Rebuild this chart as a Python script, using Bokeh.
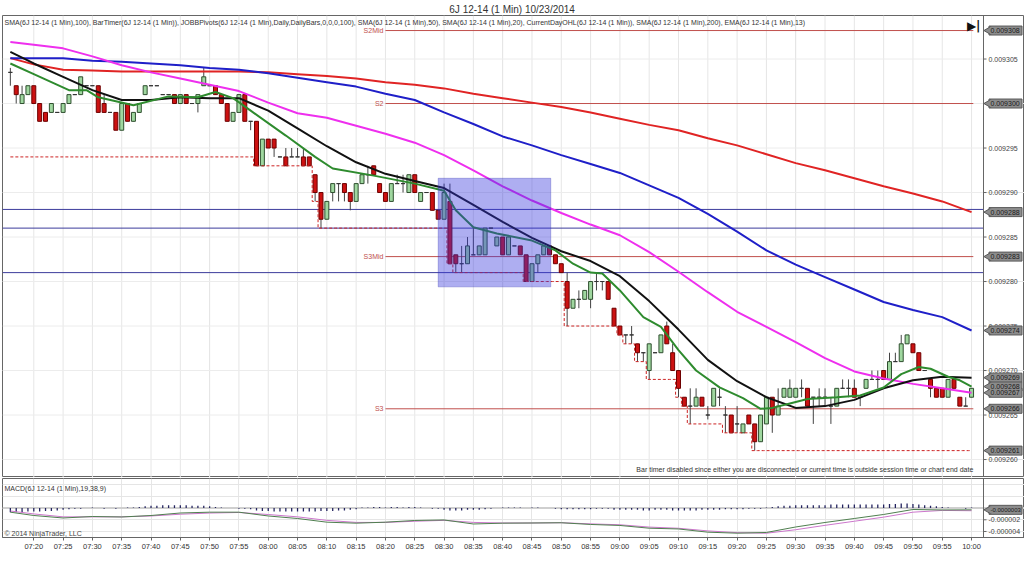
import numpy as np
from bokeh.plotting import figure
from bokeh.layouts import column
from bokeh.models import Range1d, FixedTicker, Label, ColumnDataSource, BoxAnnotation, Span
from bokeh.core.properties import value
from bokeh.embed import file_html
from bokeh.resources import INLINE

FONT = "Liberation Sans"
U = 1e-6  # all price arrays below are in millionths (9300 -> 0.009300)

# ---------------- texts ----------------
title_text = "6J 12-14 (1 Min)  10/23/2014"
indicator_text = ("SMA(6J 12-14 (1 Min),100), BarTimer(6J 12-14 (1 Min)), "
                  "JOBBPivots(6J 12-14 (1 Min),Daily,DailyBars,0,0,0,100), SMA(6J 12-14 (1 Min),50), "
                  "SMA(6J 12-14 (1 Min),20), CurrentDayOHL(6J 12-14 (1 Min)), SMA(6J 12-14 (1 Min),200), "
                  "EMA(6J 12-14 (1 Min),13)")
bartimer_text = ("Bar timer disabled since either you are disconnected or current time is "
                 "outside session time or chart end date")
macd_text = "MACD(6J 12-14 (1 Min),19,38,9)"
copyright_text = "\u00a9 2014 NinjaTrader, LLC"

tick_labels = ["07:20", "07:25", "07:30", "07:35", "07:40", "07:45", "07:50", "07:55",
               "08:00", "08:05", "08:10", "08:15", "08:20", "08:25", "08:30", "08:35",
               "08:40", "08:45", "08:50", "08:55", "09:00", "09:05", "09:10", "09:15",
               "09:20", "09:25", "09:30", "09:35", "09:40", "09:45", "09:50", "09:55", "10:00"]
price_ticks = [9260, 9265, 9270, 9275, 9280, 9285, 9290, 9295, 9300, 9305]
macd_ticks = [-4, -2]

# ---------------- 1-minute bars, 07:16 .. 10:00 ----------------
first_bar = "07:16"
opens = [
    9303.5, 9302, 9300, 9301, 9302, 9300, 9299, 9299, 9299, 9299,
    9300, 9301, 9301, 9302, 9302, 9302, 9300, 9299, 9299, 9297,
    9300, 9298, 9299, 9301, 9302, 9302, 9301, 9301, 9301, 9300,
    9301, 9300, 9300, 9302, 9302, 9302, 9301, 9300, 9298, 9299,
    9301, 9298, 9298, 9293, 9296, 9296, 9294, 9294, 9294, 9294,
    9294, 9294, 9292, 9290, 9287, 9290, 9291, 9291, 9290, 9289,
    9291, 9292, 9293, 9291, 9290, 9289, 9291, 9291, 9290, 9292,
    9289, 9290, 9290, 9288, 9287, 9289, 9283, 9282, 9282, 9283,
    9283, 9283, 9286, 9284, 9285, 9283, 9284, 9284, 9283, 9280,
    9282, 9283, 9284, 9283, 9282, 9280, 9277, 9278, 9278, 9278,
    9280, 9280, 9280, 9277, 9275, 9274, 9274, 9273, 9272, 9270,
    9272, 9272, 9275, 9272, 9270, 9267, 9266, 9266, 9267, 9265,
    9266, 9267, 9265, 9265, 9264, 9263, 9265, 9264, 9262, 9264,
    9267, 9265, 9267, 9267, 9267, 9268, 9268, 9267, 9267, 9267,
    9266, 9266, 9268, 9268, 9268, 9267, 9268, 9269, 9269, 9270,
    9269, 9271, 9271, 9273, 9273, 9272, 9270, 9269, 9268, 9268,
    9267, 9269, 9267, 9266, 9267]
highs = [
    9304, 9302, 9302, 9302, 9302, 9300, 9299, 9300, 9299, 9300,
    9301, 9301, 9303, 9302, 9302, 9302, 9301, 9299, 9299, 9300,
    9300, 9299, 9300, 9302, 9302, 9302, 9301, 9301, 9301, 9301,
    9301, 9300, 9301, 9304, 9302, 9302, 9301, 9300, 9299, 9301,
    9301, 9298, 9298, 9296, 9296, 9296, 9294, 9295, 9295, 9295,
    9295, 9294, 9292, 9290, 9289, 9291, 9291, 9291, 9290, 9291,
    9292, 9293, 9293, 9291, 9290, 9291, 9292, 9292, 9292, 9292,
    9290, 9290, 9290, 9288, 9291, 9291, 9283, 9284, 9285, 9286,
    9284, 9286, 9286, 9285, 9285, 9285, 9284, 9284, 9283, 9282,
    9283, 9284, 9284, 9283, 9282, 9281, 9278, 9279, 9279, 9280,
    9281, 9280, 9280, 9277, 9275, 9274, 9275, 9273, 9272, 9273,
    9272, 9274, 9275.5, 9273, 9270, 9267, 9268, 9268, 9267, 9266,
    9268, 9268, 9266, 9265, 9266, 9264, 9265, 9264, 9265, 9267,
    9267, 9268, 9268, 9269, 9268, 9269, 9268, 9267, 9268, 9268,
    9267, 9268, 9269, 9269, 9269, 9267, 9269, 9270, 9270, 9270,
    9272, 9272, 9274, 9274, 9273, 9272, 9270, 9269, 9268, 9268,
    9269, 9269, 9267, 9267, 9268]
lows = [
    9302, 9300, 9300, 9301, 9300, 9298, 9298, 9299, 9299, 9299,
    9300, 9301, 9301, 9302, 9302, 9299, 9299, 9299, 9297, 9297,
    9298, 9298, 9299, 9301, 9302, 9302, 9301, 9301, 9300, 9300,
    9300, 9300, 9299, 9302, 9302, 9301, 9300, 9298, 9298, 9299,
    9298, 9297, 9293, 9293, 9295, 9294, 9294, 9293, 9294, 9294,
    9293, 9293, 9289, 9286, 9287, 9289, 9289, 9289, 9288, 9289,
    9291, 9291, 9292, 9290, 9289, 9289, 9291, 9290, 9290, 9290,
    9289, 9290, 9288, 9287, 9287, 9282, 9281, 9281, 9282, 9283,
    9283, 9283, 9286, 9284, 9283, 9283, 9284, 9283, 9280, 9280,
    9281, 9283, 9283, 9282, 9281, 9275, 9277, 9277, 9278, 9277,
    9279, 9279, 9278, 9275, 9274, 9273, 9273, 9271, 9271, 9269,
    9272, 9272, 9273, 9270, 9267, 9266, 9264, 9266, 9266, 9264.5,
    9266, 9266, 9263, 9263, 9263, 9263, 9264, 9261, 9262, 9264,
    9263, 9265, 9267, 9267, 9267, 9267, 9266, 9264, 9266, 9266,
    9264, 9266, 9268, 9267, 9267, 9266, 9268, 9269, 9268, 9269,
    9269, 9271, 9271, 9273, 9272, 9270, 9270, 9267, 9267, 9267,
    9267, 9268, 9266, 9266, 9267]
closes = [
    9303.5, 9301, 9301, 9302, 9300, 9298, 9298, 9300, 9299, 9300,
    9301, 9301, 9303, 9302, 9302, 9299, 9299, 9299, 9297, 9300,
    9298, 9299, 9300, 9302, 9302, 9302, 9301, 9301, 9300, 9301,
    9300, 9300, 9301, 9303, 9302, 9301, 9300, 9298, 9299, 9301,
    9298, 9298, 9293, 9296, 9295, 9295, 9294, 9293, 9294, 9294,
    9293, 9293, 9290, 9287, 9289, 9291, 9291, 9290, 9289, 9291,
    9292, 9292, 9292, 9290, 9289, 9291, 9291, 9291, 9292, 9290,
    9290, 9290, 9288, 9287, 9290, 9282, 9282, 9282, 9284, 9283,
    9284, 9286, 9286, 9285, 9283, 9285, 9284, 9283, 9280, 9282,
    9283, 9284, 9283, 9282, 9281, 9277, 9278, 9278, 9279, 9280,
    9280, 9280, 9278, 9275, 9274, 9274, 9274, 9272, 9272, 9273,
    9272, 9274, 9273, 9270, 9268, 9266, 9266, 9267, 9266, 9265,
    9268, 9267, 9265, 9263, 9264, 9264, 9264, 9262, 9265, 9267,
    9265, 9266, 9268, 9268, 9268, 9268, 9266, 9267, 9267, 9267,
    9266, 9268, 9268, 9268, 9267, 9267, 9269, 9269, 9269, 9269,
    9271, 9271, 9273, 9274, 9272, 9270, 9270, 9268, 9267, 9267,
    9269, 9268, 9266, 9266, 9268]
prior_day_low = 9294.0   # CurrentDayOHL low before the first visible bar

# ---------------- moving averages (read every 5 minutes) ----------------
ma_minutes = [16, 20, 25, 30, 35, 40, 45, 50, 55, 60, 65, 70, 75, 80, 85, 90, 95,
              100, 105, 110, 115, 120, 125, 130, 135, 140, 145, 150, 155, 160, 165,
              170, 175, 180]
sma200 = [9305.1, 9304.4, 9303.8, 9303.7, 9303.6, 9303.6, 9303.6, 9303.6, 9303.6, 9303.5,
          9303.3, 9303.1, 9302.8, 9302.4, 9302.1, 9301.7, 9301.1, 9300.6, 9300.1, 9299.6,
          9299.0, 9298.3, 9297.6, 9297.0, 9296.1, 9295.3, 9294.3, 9293.3, 9292.5, 9291.6,
          9290.7, 9289.9, 9289.0, 9287.8]
sma100 = [9305.1, 9305.1, 9305.1, 9304.8, 9304.7, 9304.5, 9304.3, 9304.0, 9303.8, 9303.4,
          9302.9, 9302.4, 9301.9, 9301.1, 9300.4, 9299.0, 9297.7, 9296.3, 9295.3, 9294.2,
          9293.2, 9292.2, 9290.8, 9289.4, 9287.6, 9285.6, 9283.5, 9281.9, 9280.5, 9279.1,
          9277.7, 9276.8, 9276.0, 9274.5]
sma50 = [9306.9, 9306.6, 9306.2, 9305.3, 9304.3, 9303.5, 9302.8, 9302.1, 9301.4, 9300.1,
         9298.9, 9298.4, 9297.5, 9296.6, 9295.6, 9294.2, 9292.5, 9290.7, 9289.1, 9287.7,
         9286.4, 9285.2, 9283.3, 9281.1, 9278.8, 9276.6, 9274.9, 9273.2, 9271.4, 9269.9,
         9269.1, 9268.5, 9268.0, 9267.5]
sma20 = [9305.8, 9304.5, 9303.0, 9301.5, 9300.4, 9300.4, 9300.7, 9300.6, 9300.6, 9299.2,
         9297.2, 9295.2, 9293.4, 9292.1, 9291.3, 9290.5, 9288.6, 9286.7, 9284.9, 9283.4,
         9282.3, 9280.6, 9277.8, 9274.6, 9271.2, 9268.8, 9267.0, 9265.8, 9266.0, 9266.7,
         9268.0, 9268.9, 9269.3, 9269.2]
ema13_minutes = [16, 20, 26, 29, 31, 37, 43, 48, 51, 54, 57, 63, 68, 71, 78, 85, 90, 92, 95,
                 99, 105, 109, 112, 115, 117, 120, 124, 127, 130, 133, 137, 141, 144, 146,
                 149, 152, 157, 161, 165, 168, 171, 173, 176, 178, 180]
ema13 = [9304.5, 9303.3, 9301.5, 9301.5, 9300.7, 9299.8, 9300.8, 9300.7, 9301.3, 9300.6,
         9299.2, 9296.4, 9294.0, 9292.7, 9291.9, 9291.0, 9290.2, 9288.0, 9286.1, 9285.4,
         9284.6, 9283.5, 9282.0, 9281.0, 9280.9, 9279.0, 9276.0, 9274.9, 9272.3, 9270.0,
         9268.1, 9266.9, 9265.7, 9265.8, 9266.3, 9266.8, 9267.0, 9267.2, 9268.1, 9269.6,
         9270.4, 9270.2, 9269.3, 9268.9, 9268.2]

# ---------------- pivots and drawn objects ----------------
pivot_names = ["S2Mid", "S2", "S3Mid", "S3"]
pivot_values = [9308.2, 9300.0, 9282.8, 9265.7]
pivot_start = "08:20"
pivot_end = "10:00"
drawn_hlines = [9288.1, 9286.0, 9281.0]
rect_start, rect_end = 89.0, 108.2      # minutes after 07:00
rect_low, rect_high = 9279.4, 9291.6

# ---------------- MACD (millionths) ----------------
macd = [-0.70, -1.27, -1.69, -1.44, -1.52, -1.27, -0.84, -0.70, -0.70, -1.35,
        -1.78, -2.41, -2.58, -2.41, -2.12, -2.03, -2.72, -2.58, -2.55, -2.51,
        -2.80, -2.97, -3.44, -3.57, -4.12, -4.29, -4.17, -3.23, -2.46, -1.78,
        -1.09, -0.24, -0.32, -0.30]
macd_avg = [-0.50, -1.00, -1.50, -1.50, -1.50, -1.35, -1.05, -0.85, -0.75, -1.10,
            -1.50, -2.10, -2.45, -2.45, -2.25, -2.10, -2.45, -2.55, -2.55, -2.50,
            -2.70, -2.85, -3.25, -3.45, -3.90, -4.20, -4.30, -3.70, -2.95, -2.25,
            -1.55, -0.70, -0.40, -0.45]
macd_diff = [
    -0.7, -0.7, -0.7, -0.6, -0.6, -0.6, -0.5, -0.5, -0.4, -0.3, -0.2, -0.1,
    -0.1, 0.0, 0.1, 0.0, -0.1, 0.0, -0.1, 0.0, 0.1, 0.1, 0.2,
    0.3, 0.4, 0.4, 0.5, 0.5, 0.5, 0.5, 0.5, 0.4, 0.4, 0.4, 0.3, 0.2,
    0.1, 0.0, 0.0, -0.1, -0.1, -0.2,
    -0.4, -0.5, -0.5, -0.6, -0.6, -0.6, -0.6, -0.6, -0.6, -0.6, -0.6, -0.5, -0.5, -0.5,
    -0.4, -0.4, -0.3, -0.2,
    0.1, 0.1, 0.2, 0.2, 0.1, 0.2, 0.2, 0.1, 0.2, 0.2, 0.1, 0.0, -0.1, -0.1,
    -0.3, -0.4, -0.4, -0.4, -0.3, -0.3, -0.3, -0.2, -0.1,
    0.0, 0.1, 0.1, 0.1, 0.1, 0.0, 0.1, 0.1, 0.0, 0.0, -0.1,
    -0.2, -0.2, -0.2, -0.2, -0.2, -0.2, -0.1, -0.1, -0.1,
    -0.3, -0.3, -0.3, -0.3, -0.3, -0.4, -0.4, -0.3, -0.3, -0.3, -0.4, -0.4, -0.4,
    -0.4, -0.4, -0.3, -0.3, -0.3, -0.3, -0.2, -0.2, -0.2, -0.2, -0.1, -0.1, -0.1,
    0.1, 0.2, 0.3, 0.4, 0.4, 0.5, 0.5, 0.5, 0.5, 0.5, 0.5, 0.6, 0.6, 0.6,
    0.6, 0.6, 0.6, 0.6, 0.6, 0.6, 0.6, 0.7, 0.7, 0.8, 0.8, 0.7, 0.6, 0.5,
    0.4, 0.3, 0.2, 0.1, 0.0, 0.0, -0.1, 0.1]


def to_min(s):
    hh, mm = s.split(":")
    return (int(hh) - 7) * 60 + int(mm)


n = min(len(opens), len(highs), len(lows), len(closes))
bar_x = to_min(first_bar) + np.arange(n)
o = np.array(opens[:n]) * U
h = np.array(highs[:n]) * U
l = np.array(lows[:n]) * U
c = np.array(closes[:n]) * U
up = c > o
down = c < o
fill = np.where(up, "#9fd79f", np.where(down, "#cc1111", "#333333"))
edge = np.where(up, "#2f4f2f", np.where(down, "#6e0000", "#333333"))
candles = ColumnDataSource(dict(x=bar_x, high=h, low=l, top=np.maximum(o, c),
                                bottom=np.minimum(o, c), fill=fill, edge=edge))
running_low = np.minimum.accumulate(np.concatenate([[prior_day_low], lows[:n]]))[1:] * U

tick_pos = [to_min(t) for t in tick_labels]

# ---------------- layout constants ----------------
W = 1024
FRAME_W = W - 2             # frame from x=2 to the right edge (price scale drawn inside)
PX_PER_MIN = 5.861
X0 = 14.66                  # minute at the left edge of the frame
xr = Range1d(X0, X0 + FRAME_W / PX_PER_MIN)
MPP = 1.0 / PX_PER_MIN      # minutes per pixel
axis_x = X0 + 981 * MPP     # position of the price scale line
yr = Range1d(9257.98 * U, 9309.89 * U)
macd_lo, macd_hi = -5.03, 5.06
AXIS_C = "#666666"


def price_scale(fig, ticks, boxes, box_w=33, box_font="7px"):
    """Price scale on the right: line, ticks, labels and value boxes."""
    fig.add_layout(Span(location=axis_x, dimension="height", line_color=AXIS_C, line_width=1))
    fig.segment(x0=axis_x, x1=axis_x + 3 * MPP, y0=ticks, y1=ticks, line_color=AXIS_C)
    fig.text(x=[axis_x] * len(ticks), y=ticks, text=["%.6f" % t for t in ticks],
             x_offset=5, text_baseline="middle", text_font=value(FONT),
             text_font_size="7px", text_color="#444444")
    ys = [b[0] for b in boxes]
    bx = [axis_x + (5.5 + box_w / 2.0) * MPP] * len(boxes)
    fig.rect(x=bx, y=ys, width=box_w, height=9, width_units="screen",
             height_units="screen", fill_color="#8c8c8c", line_color="#5a5a5a")
    fig.scatter(x=[axis_x + 5 * MPP] * len(boxes), y=ys, marker="triangle",
                size=8, angle=np.pi / 2, fill_color="#8c8c8c", line_color="#5a5a5a")
    fig.rect(x=bx, y=ys, width=box_w - 2, height=7, width_units="screen",
             height_units="screen", fill_color="#8c8c8c", line_color=None)
    fig.text(x=[axis_x] * len(boxes), y=ys, text=[b[1] for b in boxes],
             x_offset=7, text_baseline="middle", text_font=value(FONT),
             text_font_size=box_font, text_color="#1a1a1a")


# ---------------- main price panel ----------------
p1 = figure(width=W, height=477, x_range=xr, y_range=yr, output_backend="svg",
            toolbar_location=None, x_axis_location=None, y_axis_location=None,
            min_border_left=2, min_border_right=0, min_border_top=15, min_border_bottom=0,
            background_fill_color="white", border_fill_color="white",
            outline_line_color=AXIS_C)
p1.title.text = title_text
p1.title.align = "center"
p1.title.text_font = FONT
p1.title.text_font_size = "10px"
p1.title.text_font_style = "normal"
p1.title.text_color = "#333333"
p1.title.standoff = 2

# grid
for tp in tick_pos:
    p1.add_layout(Span(location=tp, dimension="height", line_color="#e6e6e6", line_width=1,
                       level="underlay"))
p1.segment(x0=X0, x1=axis_x, y0=[t * U for t in price_ticks], y1=[t * U for t in price_ticks],
           line_color="#ececec", line_width=1)

# pivots
px0, px1 = to_min(pivot_start), to_min(pivot_end) + 0.3
for name, v in zip(pivot_names, pivot_values):
    p1.segment(x0=px0, y0=v * U, x1=px1, y1=v * U, line_color="#c0504d", line_width=1)
    p1.add_layout(Label(x=px0, y=v * U, text=name, text_font=FONT, text_font_size="7px",
                        text_color="#c0504d", text_align="right", text_baseline="middle",
                        x_offset=-2))
p1.segment(x0=X0, x1=axis_x, y0=[v * U for v in drawn_hlines], y1=[v * U for v in drawn_hlines],
           line_color="#3c3c9c", line_width=1)

# candles
p1.segment(x0="x", y0="high", x1="x", y1="low", source=candles, line_color="#444444", line_width=1)
p1.vbar(x="x", width=0.68, top="top", bottom="bottom", source=candles,
        fill_color="fill", line_color="edge", line_width=1)

# current day low (dashed step)
p1.step(x=bar_x, y=running_low, mode="center", line_color="#cc2222", line_width=1,
        line_dash="3 2")

# moving averages
p1.line(ma_minutes, [v * U for v in sma200], line_color="#e02424", line_width=2)
p1.line(ma_minutes, [v * U for v in sma100], line_color="#1f1fc8", line_width=2)
p1.line(ma_minutes, [v * U for v in sma50], line_color="#ee2fee", line_width=2)
p1.line(ma_minutes, [v * U for v in sma20], line_color="#111111", line_width=2)
p1.line(ema13_minutes, [v * U for v in ema13], line_color="#2e8b2e", line_width=2)

# drawn rectangle
p1.add_layout(BoxAnnotation(left=rect_start, right=rect_end, bottom=rect_low * U, top=rect_high * U,
                            fill_color="#3535dd", fill_alpha=0.4, line_color="#2a2aa8",
                            line_width=1))

# texts
p1.add_layout(Label(x=xr.start, y=yr.end, text=indicator_text, text_font=FONT,
                    text_font_size="7px", text_color="#333333", text_baseline="top",
                    x_offset=2, y_offset=-3))
p1.add_layout(Label(x=to_min(pivot_end) + 0.3, y=yr.start, text=bartimer_text, text_font=FONT,
                    text_font_size="7px", text_color="#333333", text_align="right",
                    text_baseline="bottom", y_offset=5))
p1.add_layout(Label(x=axis_x, y=yr.end, text="\u25b6|", text_font="DejaVu Sans",
                    text_font_size="12px", text_font_style="bold", text_color="#111111",
                    text_align="right", text_baseline="top", x_offset=-3, y_offset=-3))

# price scale with value boxes
box_values = pivot_values + [sma200[-1], sma100[-1], sma20[-1], ema13[-1], sma50[-1],
                             running_low[-1] / U]
price_scale(p1, [t * U for t in price_ticks],
            [(v * U, "%.6f" % (v * U)) for v in box_values])

# ---------------- MACD panel ----------------
p2 = figure(width=W, height=85, x_range=xr, y_range=Range1d(macd_lo * U, macd_hi * U),
            output_backend="svg", toolbar_location=None, x_axis_location="below",
            y_axis_location=None, min_border_left=2, min_border_right=0,
            min_border_top=1, min_border_bottom=25, background_fill_color="white",
            border_fill_color="white", outline_line_color=AXIS_C)
xa = p2.xaxis[0]
xa.ticker = FixedTicker(ticks=tick_pos)
xa.major_label_overrides = {tp: lab for tp, lab in zip(tick_pos, tick_labels)}
xa.major_label_text_font = FONT
xa.major_label_text_font_size = "7.5px"
xa.major_label_text_color = "#333333"
xa.major_tick_out = 3
xa.major_tick_in = 0
xa.minor_tick_out = 0
xa.minor_tick_in = 0
xa.major_label_standoff = 1
xa.axis_line_color = AXIS_C
xa.major_tick_line_color = AXIS_C
p2.xgrid.grid_line_color = "#e6e6e6"
p2.xgrid.ticker = FixedTicker(ticks=tick_pos)

p2.add_layout(Span(location=0, dimension="width", line_color="#cfcfcf", line_width=2,
                   level="underlay"))
p2.vbar(x=bar_x, top=[v * U for v in macd_diff[:n]], bottom=0, width=0.22,
        fill_color="#23235f", line_color=None)
p2.line(ma_minutes, [v * U for v in macd_avg], line_color="#cc77cc", line_width=1)
p2.line(ma_minutes, [v * U for v in macd], line_color="#4f7f4f", line_width=1)

p2.add_layout(Label(x=xr.start, y=macd_hi * U, text=macd_text, text_font=FONT, text_font_size="7px",
                    text_color="#333333", text_baseline="top", x_offset=2, y_offset=-6))
p2.add_layout(Label(x=xr.start, y=macd_lo * U, text=copyright_text, text_font=FONT,
                    text_font_size="7px", text_color="#444444", text_baseline="bottom",
                    x_offset=2, y_offset=1))
price_scale(p2, [t * U for t in macd_ticks], [(macd[-1] * U, "%.7f" % (macd[-1] * U))],
            box_w=33, box_font="6px")

layout = column(p1, p2, spacing=0)
open("out.html", "w").write(file_html(layout, INLINE))
